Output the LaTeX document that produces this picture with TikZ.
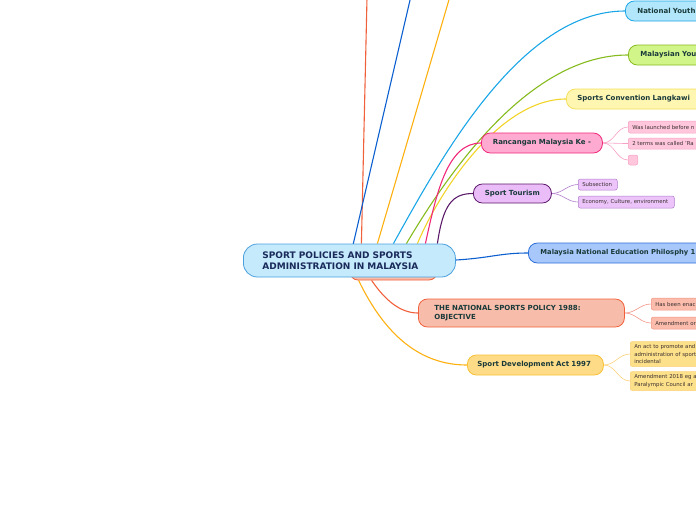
\documentclass[tikz,border=0pt]{standalone}
\usepackage{fontspec}
\setmainfont{DejaVu Sans}
\usetikzlibrary{backgrounds}
\definecolor{ctrfill}{HTML}{C5EAFC}\definecolor{ctrdraw}{HTML}{4AA0DC}
\definecolor{ctrtext}{HTML}{1A2A5A}\definecolor{ntext}{HTML}{1A3A3A}\definecolor{ltext}{HTML}{3A3030}
\definecolor{nyfill}{HTML}{B2E6FB}\definecolor{nydraw}{HTML}{1AA6E6}
\definecolor{myfill}{HTML}{D2F58A}\definecolor{mydraw}{HTML}{86BB1E}
\definecolor{scfill}{HTML}{FFF6B2}\definecolor{scdraw}{HTML}{F5DF5A}\definecolor{scedge}{HTML}{F2D428}
\definecolor{rmfill}{HTML}{FFAAD0}\definecolor{rmdraw}{HTML}{F0287A}
\definecolor{rmlfill}{HTML}{FFC6DC}\definecolor{rmldraw}{HTML}{F6A0C4}
\definecolor{stfill}{HTML}{EABDF8}\definecolor{stdraw}{HTML}{5C1A6A}
\definecolor{stlfill}{HTML}{ECC4FA}\definecolor{stldraw}{HTML}{B07CCC}
\definecolor{edfill}{HTML}{A8C8FC}\definecolor{eddraw}{HTML}{2C6ED8}\definecolor{blueedge}{HTML}{0B5FCF}
\definecolor{npfill}{HTML}{F8BDAA}\definecolor{npdraw}{HTML}{F0603A}
\definecolor{nplfill}{HTML}{FBBCAC}\definecolor{npldraw}{HTML}{F29484}
\definecolor{sdfill}{HTML}{FEDB86}\definecolor{sddraw}{HTML}{F8C034}\definecolor{oredge}{HTML}{FDB010}
\definecolor{sdlfill}{HTML}{FDE08A}\definecolor{sdldraw}{HTML}{FAD27A}
\begin{document}
\begin{tikzpicture}[x=1pt,y=-1pt,
  mainnode/.style={draw, rounded corners=9pt, line width=0.8pt, inner ysep=0pt,
    font=\bfseries\fontsize{7}{9}\selectfont, text=ntext, anchor=west, align=left},
  leafnode/.style={draw, rounded corners=2pt, line width=0.5pt, inner ysep=0pt, inner xsep=4pt,
    font=\fontsize{5.4}{7.6}\selectfont, text=ltext, anchor=west, align=left},
  edge/.style={line width=1.1pt},
  leafedge/.style={line width=0.6pt}]
\useasboundingbox (0,0) rectangle (696,520);

% hidden node behind the central topic
\node[draw=npdraw, fill=npfill, line width=0.8pt, rounded corners=8pt, minimum width=87pt,
  minimum height=28pt, inner sep=0pt] (hid) at (393.5,266) {};
% central topic
\node[draw=ctrdraw, fill=ctrfill, line width=0.8pt, rounded corners=14pt, anchor=west,
  inner xsep=19pt, inner ysep=0pt, minimum height=33pt, text width=174pt, align=left,
  font=\bfseries\fontsize{9}{11.5}\selectfont, text=ctrtext] (c) at (243,260.5)
  {SPORT POLICIES AND SPORTS\\ADMINISTRATION IN MALAYSIA};

% main topics
\node[mainnode, fill=nyfill, draw=nydraw, inner xsep=12pt, text width=96pt, minimum height=20pt] (ny) at (625,11) {National Youth};
\node[mainnode, fill=myfill, draw=mydraw, inner xsep=12pt, text width=96pt, minimum height=20pt] (my) at (628,55) {Malaysian You};
\node[mainnode, fill=scfill, draw=scdraw, inner xsep=11pt, text width=130pt, minimum height=20pt] (sc) at (566,99) {Sports Convention Langkawi};
\node[mainnode, fill=rmfill, draw=rmdraw, inner xsep=0pt, text width=121pt, align=center, minimum height=20pt] (rm) at (481,143) {Rancangan Malaysia Ke -};
\node[mainnode, fill=stfill, draw=stdraw, inner xsep=0pt, text width=78pt, align=center, minimum height=19pt] (st) at (473,193.5) {Sport Tourism};
\node[mainnode, fill=edfill, draw=eddraw, inner xsep=12pt, text width=190pt, minimum height=20pt,
  font=\bfseries\fontsize{6.8}{9}\selectfont] (ed) at (528,253) {Malaysia National Education Philosphy 1};
\node[mainnode, fill=npfill, draw=npdraw, inner xsep=16pt, text width=174pt, minimum height=28pt] (np) at (418,313) {THE NATIONAL SPORTS POLICY 1988:\\OBJECTIVE};
\node[mainnode, fill=sdfill, draw=sddraw, inner xsep=10pt, text width=116pt, minimum height=20pt] (sd) at (467,365) {Sport Development Act 1997};

% leaves
\node[leafnode, fill=rmlfill, draw=rmldraw, text width=80pt, minimum height=12pt] (rm1) at (628,127) {Was launched before n};
\node[leafnode, fill=rmlfill, draw=rmldraw, text width=80pt, minimum height=11pt] (rm2) at (628,143.5) {2 terms was called 'Ra};
\node[leafnode, fill=rmlfill, draw=rmldraw, inner xsep=0pt, minimum width=9.5pt, minimum height=10pt] (rm3) at (628,160) {};
\node[leafnode, fill=stlfill, draw=stldraw, text width=31pt, minimum height=11pt] (st1) at (578,184.5) {Subsection};
\node[leafnode, fill=stlfill, draw=stldraw, text width=88pt, minimum height=12pt] (st2) at (578,202) {Economy, Culture, environment};
\node[leafnode, fill=nplfill, draw=npldraw, text width=60pt, minimum height=12pt] (np1) at (651,304) {Has been enac};
\node[leafnode, fill=nplfill, draw=npldraw, text width=60pt, minimum height=12pt] (np2) at (651,323) {Amendment or};
\node[leafnode, fill=sdlfill, draw=sdldraw, text width=80pt, minimum height=25pt] (sd1) at (630,354) {An act to promote and\\administration of sport\\incidental};
\node[leafnode, fill=sdlfill, draw=sdldraw, text width=80pt, minimum height=19pt] (sd2) at (630,381) {Amendment 2018 eg a\\Paralympic Council ar};

\coordinate (t1) at (367,-2);
\coordinate (t2) at (410.5,-2);
\coordinate (t3) at (449.5,-2);

\begin{scope}[on background layer]
  \draw[edge, npdraw] ([xshift=12pt]c.north) -- (t1);
  \draw[edge, blueedge] ([xshift=3pt,yshift=-4pt]c.north) -- (t2);
  \draw[edge, oredge] ([xshift=28pt]c.north) -- (t3);
  \draw[edge, nydraw] ([xshift=44pt]c.north) .. controls (440,160) and (520,11) .. (ny.west);
  \draw[edge, mydraw] ([xshift=57pt]c.north) .. controls (450,170) and (530,55) .. (my.west);
  \draw[edge, scedge] ([xshift=68pt]c.north) .. controls (440,190) and (500,99) .. (sc.west);
  \draw[edge, rmdraw] ([xshift=76pt]c.north) .. controls (437,190) and (448,143) .. (rm.west);
  \draw[edge, stdraw] ([xshift=88pt]c.north) .. controls (443,205) and (452,193.5) .. (st.west);
  \draw[edge, blueedge] ([yshift=0.5pt]c.east) .. controls (490,258) and (500,253) .. (ed.west);
  \draw[edge, npdraw] ([xshift=22pt]hid.south west) .. controls (385,300) and (400,313) .. (np.west);
  \draw[edge, oredge] ([xshift=9pt]hid.south west) .. controls (385,335) and (420,365) .. (sd.west);
  \draw[leafedge, rmldraw] (rm.east) to[out=0,in=180] (rm1.west);
  \draw[leafedge, rmldraw] (rm.east) to[out=0,in=180] (rm2.west);
  \draw[leafedge, rmldraw] (rm.east) to[out=0,in=180] (rm3.west);
  \draw[leafedge, stldraw] (st.east) to[out=0,in=180] (st1.west);
  \draw[leafedge, stldraw] (st.east) to[out=0,in=180] (st2.west);
  \draw[leafedge, npldraw] (np.east) to[out=0,in=180] (np1.west);
  \draw[leafedge, npldraw] (np.east) to[out=0,in=180] (np2.west);
  \draw[leafedge, sdldraw] (sd.east) to[out=0,in=180] (sd1.west);
  \draw[leafedge, sdldraw] (sd.east) to[out=0,in=180] (sd2.west);
\end{scope}
\end{tikzpicture}
\end{document}
